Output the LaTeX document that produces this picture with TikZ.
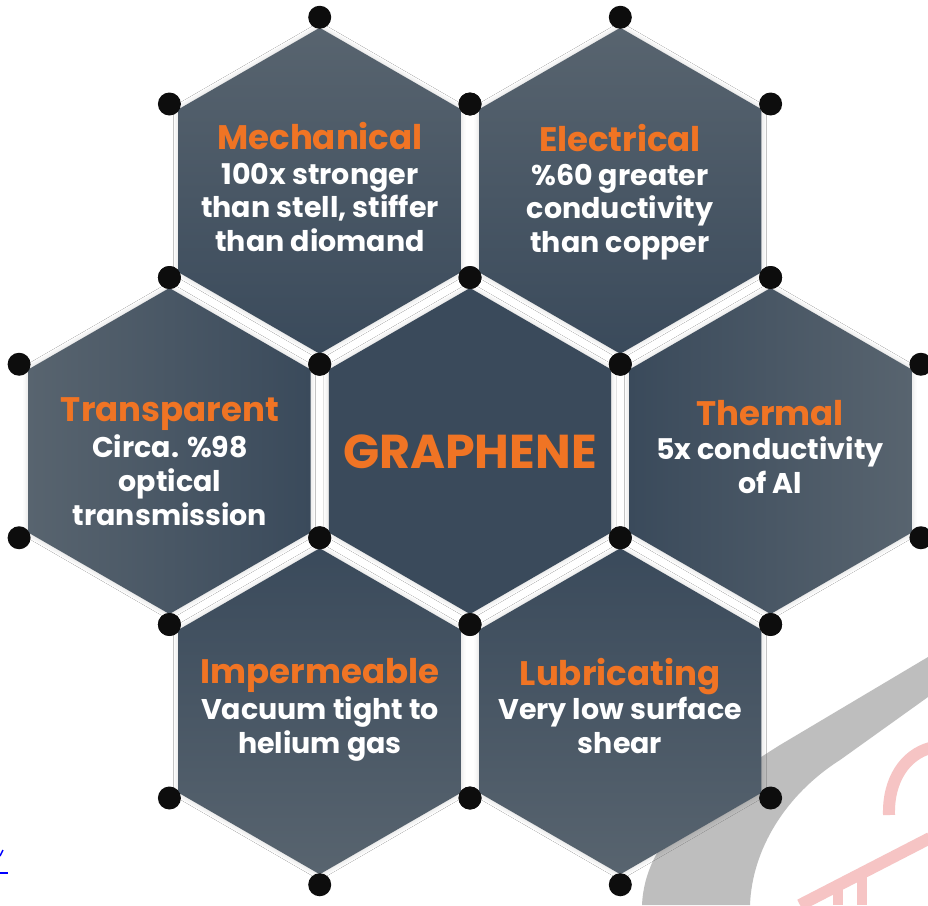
\documentclass[tikz,border=0pt]{standalone}
\usepackage{fontspec}
\setmainfont{Poppins}
\usetikzlibrary{shadows.blur}
\definecolor{hexdark}{HTML}{3A4A5B}
\definecolor{hexlight}{HTML}{58646F}
\definecolor{orangeT}{HTML}{F07424}
\definecolor{wmgrey}{HTML}{BEBEBE}
\definecolor{wmpink}{HTML}{F6C4C4}
\newcommand\hexat[3]{(#1,{#2-#3}) -- ({#1+0.8660254*#3},{#2-0.5*#3}) -- ({#1+0.8660254*#3},{#2+0.5*#3}) -- (#1,{#2+#3}) -- ({#1-0.8660254*#3},{#2+0.5*#3}) -- ({#1-0.8660254*#3},{#2-0.5*#3}) -- cycle}
\newcommand\dotsat[2]{%
  \fill[dotc] (#1,{#2-173.5}) circle (11.5);
  \fill[dotc] ({#1+150.3},{#2-86.75}) circle (11.5);
  \fill[dotc] ({#1+150.3},{#2+86.75}) circle (11.5);
  \fill[dotc] (#1,{#2+173.5}) circle (11.5);
  \fill[dotc] ({#1-150.3},{#2+86.75}) circle (11.5);
  \fill[dotc] ({#1-150.3},{#2-86.75}) circle (11.5);}
\tikzset{
  dotc/.style={fill=black!95},
  hexshadow/.style={blur shadow={shadow xshift=0pt, shadow yshift=0pt, shadow blur radius=5pt, shadow opacity=18}},
  title/.style={font=\bfseries\fontsize{34}{34}\selectfont, text=orangeT, anchor=base, inner sep=0pt},
  body/.style={font=\bfseries\fontsize{28.5}{34}\selectfont, text=white, anchor=base, inner sep=0pt},
  big/.style={font=\bfseries\fontsize{47.5}{48}\selectfont, text=orangeT, anchor=base, inner sep=0pt}
}
\begin{document}
\begin{tikzpicture}[x=1pt,y=-1pt]
\useasboundingbox (0,0) rectangle (928,905);
\fill[white] (0,0) rectangle (928,905);
% watermark
\fill[wmgrey] (928,657) -- (780,745) .. controls (700,795) and (645,840) .. (642,905)
  -- (750,905) .. controls (752,850) and (785,795) .. (840,760) -- (928,697) -- cycle;
\draw[wmpink, line width=12pt] (889,815) .. controls (888,780) and (905,755) .. (930,748);
\draw[wmpink, line width=12pt] (800,905) -- (930,838);
\draw[wmpink, line width=10pt] (862,872) -- (862,905);
\draw[wmpink, line width=10pt] (838,884) -- (838,905);
\draw[blue, line width=1.5pt] (0,873) -- (8,873);
\draw[blue, line width=1.5pt] (0,856) -- (3,850);
% hexagons
\path[hexshadow, top color=hexlight, bottom color=hexdark] \hexat{319.7}{190.75}{163};
\path[hexshadow, top color=hexlight, bottom color=hexdark] \hexat{620.3}{190.75}{163};
\path[hexshadow, left color=hexlight, right color=hexdark] \hexat{169.4}{451}{163};
\path[hexshadow, fill=hexdark] \hexat{470}{451}{163};
\path[hexshadow, left color=hexdark, right color=hexlight] \hexat{770.6}{451}{163};
\path[hexshadow, top color=hexdark, bottom color=hexlight] \hexat{319.7}{711.25}{163};
\path[hexshadow, top color=hexdark, bottom color=hexlight] \hexat{620.3}{711.25}{163};
% dots at lattice vertices
\dotsat{319.7}{190.75}
\dotsat{620.3}{190.75}
\dotsat{169.4}{451}
\dotsat{770.6}{451}
\dotsat{319.7}{711.25}
\dotsat{620.3}{711.25}
% texts
\node[title] (mT) at (320,149) {Mechanical};
\node[body] (m1) at (320,184) {100x stronger};
\node[body] (m2) at (320,217.5) {than stell, stiffer};
\node[body] (m3) at (320,251) {than diomand};
\node[title] (eT) at (620,151.5) {Electrical};
\node[body] (e1) at (620,185) {\%60 greater};
\node[body] (e2) at (620,218.5) {conductivity};
\node[body] (e3) at (620,252) {than copper};
\node[title] (tT) at (170,421.5) {Transparent};
\node[body] (t1) at (170,457) {Circa. \%98};
\node[body] (t2) at (170,491) {optical};
\node[body] (t3) at (170,525) {transmission};
\node[big] (g) at (470,468) {GRAPHENE};
\node[title] (hT) at (770,425) {Thermal};
\node[body] (h1) at (770,459) {5x conductivity};
\node[body] (h2) at (770,493) {of Al};
\node[title] (iT) at (320,683.5) {Impermeable};
\node[body] (i1) at (320,719) {Vacuum tight to};
\node[body] (i2) at (320,753) {helium gas};
\node[title] (lT) at (620,685) {Lubricating};
\node[body] (l1) at (620,719.5) {Very low surface};
\node[body] (l2) at (620,753) {shear};
\end{tikzpicture}
\end{document}
